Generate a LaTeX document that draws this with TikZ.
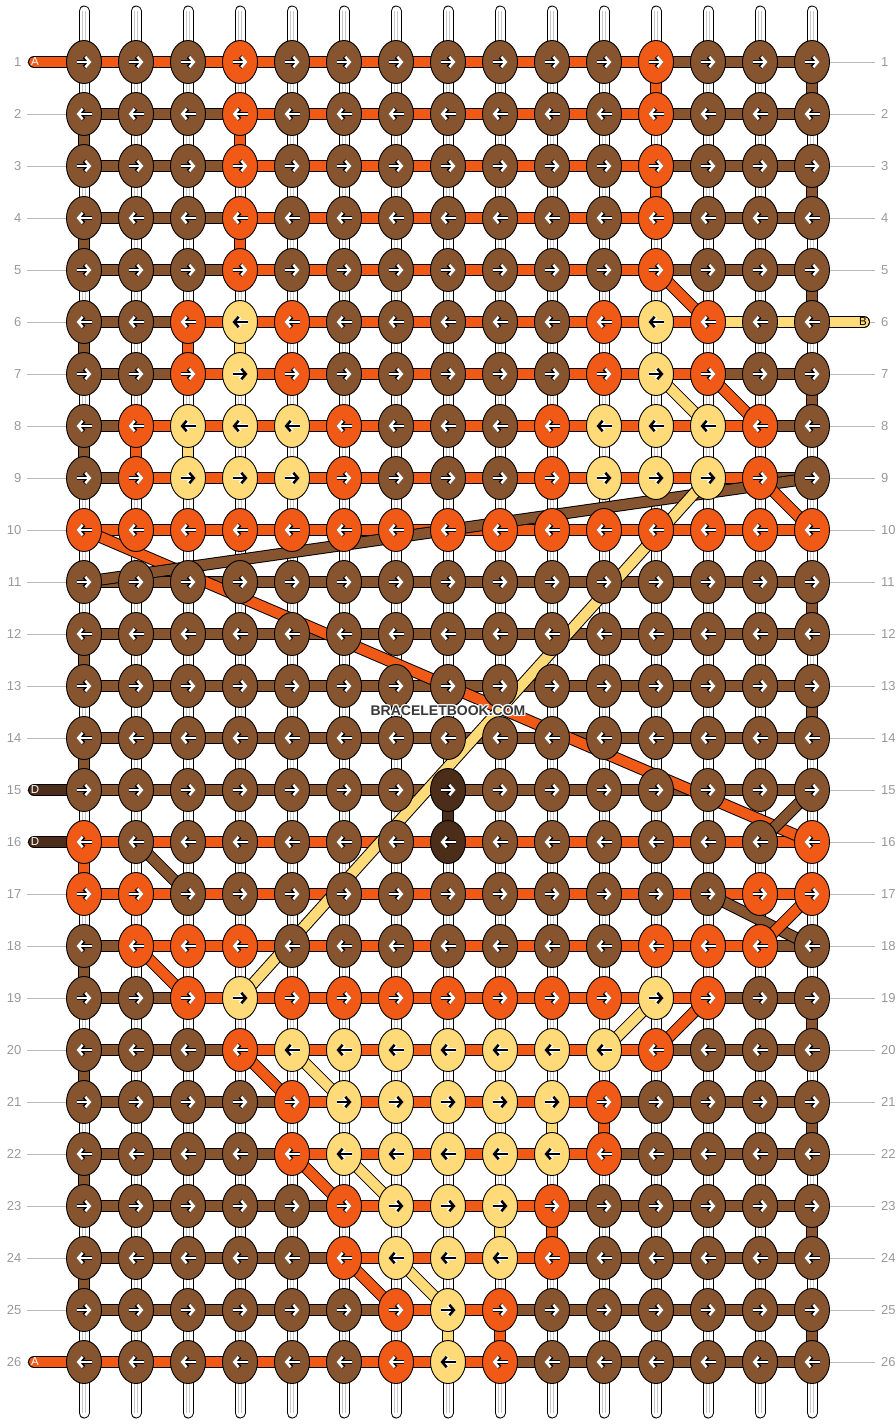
\documentclass[tikz,border=0pt]{standalone}
\usepackage{fontspec}
\setmainfont{Liberation Sans}
\usetikzlibrary{shapes.geometric,arrows.meta}
\definecolor{cB}{HTML}{875430}
\definecolor{cO}{HTML}{F15A16}
\definecolor{cY}{HTML}{FFDA78}
\definecolor{cD}{HTML}{4B2D19}
\definecolor{lbl}{HTML}{999999}
\tikzset{
  knot/.style={ellipse, draw=black, line width=0.9pt, minimum width=35pt, minimum height=43pt, inner sep=0pt},
  tube/.style={draw=white, line width=9pt, line cap=round,
    preaction={draw=black, line width=11pt, line cap=round},
    postaction={draw=black!22, line width=4.5pt, line cap=butt},
    postaction={draw=white, line width=2.5pt, line cap=butt}},
  bar/.style={draw=#1, line width=10pt, preaction={draw=black, line width=12pt}},
  tail/.style={draw=#1, line width=10pt, line cap=round,
    preaction={draw=black, line width=12pt, line cap=round}},
  arwtip/.style={-{Straight Barb[length=4.5pt,width=10.5pt]}},
  arw-B/.style={arwtip, draw=white, line width=2.5pt, preaction={draw=black, line width=4.2pt, arwtip}},
  arw-O/.style={arw-B},
  arw-D/.style={arw-B},
  arw-Y/.style={arwtip, draw=black, line width=2.5pt, preaction={draw=white, line width=4.2pt, arwtip}},
  rowlbl/.style={inner sep=0pt, text=lbl, font=\fontsize{13}{15}\selectfont},
  rowline/.style={draw=black!27, line width=1pt},
  taillbl/.style={inner sep=0pt, font=\fontsize{11.5}{13}\selectfont},
  wmark/.style={inner sep=0pt, font=\bfseries\fontsize{14}{16}\selectfont}
}
% row / knot colours / colours of the bars between knots
\def\patrows{
1/{B,B,B,O,B,B,B,B,B,B,B,O,B,B,B}/{O,O,O,O,O,O,O,O,O,O,O,B,B,B},
2/{B,B,B,O,B,B,B,B,B,B,B,O,B,B,B}/{B,B,B,O,O,O,O,O,O,O,O,B,B,B},
3/{B,B,B,O,B,B,B,B,B,B,B,O,B,B,B}/{B,B,B,O,O,O,O,O,O,O,O,B,B,B},
4/{B,B,B,O,B,B,B,B,B,B,B,O,B,B,B}/{B,B,B,O,O,O,O,O,O,O,O,B,B,B},
5/{B,B,B,O,B,B,B,B,B,B,B,O,B,B,B}/{B,B,B,O,O,O,O,O,O,O,O,B,B,B},
6/{B,B,O,Y,O,B,B,B,B,B,O,Y,O,B,B}/{B,B,O,O,O,O,O,O,O,O,O,O,Y,Y},
7/{B,B,O,Y,O,B,B,B,B,B,O,Y,O,B,B}/{B,B,O,O,O,O,O,O,O,O,O,O,B,B},
8/{B,O,Y,Y,Y,O,B,B,B,O,Y,Y,Y,O,B}/{B,O,O,O,O,O,O,O,O,O,O,O,O,B},
9/{B,O,Y,Y,Y,O,B,B,B,O,Y,Y,Y,O,B}/{B,O,O,O,O,O,O,O,O,O,O,O,O,B},
10/{O,O,O,O,O,O,O,O,O,O,O,O,O,O,O}/{O,O,O,O,O,O,O,O,O,O,O,O,O,O},
11/{B,B,B,B,B,B,B,B,B,B,B,B,B,B,B}/{B,B,B,B,B,B,B,B,B,B,B,B,B,B},
12/{B,B,B,B,B,B,B,B,B,B,B,B,B,B,B}/{B,B,B,B,B,B,B,B,B,B,B,B,B,B},
13/{B,B,B,B,B,B,B,B,B,B,B,B,B,B,B}/{B,B,B,B,B,B,B,B,B,B,B,B,B,B},
14/{B,B,B,B,B,B,B,B,B,B,B,B,B,B,B}/{B,B,B,B,B,B,B,B,B,B,B,B,B,B},
15/{B,B,B,B,B,B,B,D,B,B,B,B,B,B,B}/{B,B,B,B,B,B,B,B,B,B,B,B,B,B},
16/{O,B,B,B,B,B,B,D,B,B,B,B,B,B,O}/{O,O,O,O,O,O,O,O,O,O,O,O,O,O},
17/{O,O,B,B,B,B,B,B,B,B,B,B,B,O,O}/{O,O,O,O,O,O,O,O,O,O,O,O,O,O},
18/{B,O,O,O,B,B,B,B,B,B,B,O,O,O,B}/{B,O,O,O,O,O,O,O,O,O,O,O,O,B},
19/{B,B,O,Y,O,O,O,O,O,O,O,Y,O,B,B}/{B,B,O,O,O,O,O,O,O,O,O,O,B,B},
20/{B,B,B,O,Y,Y,Y,Y,Y,Y,Y,O,B,B,B}/{B,B,B,O,O,O,O,O,O,O,O,B,B,B},
21/{B,B,B,B,O,Y,Y,Y,Y,Y,O,B,B,B,B}/{B,B,B,B,O,O,O,O,O,O,B,B,B,B},
22/{B,B,B,B,O,Y,Y,Y,Y,Y,O,B,B,B,B}/{B,B,B,B,O,O,O,O,O,O,B,B,B,B},
23/{B,B,B,B,B,O,Y,Y,Y,O,B,B,B,B,B}/{B,B,B,B,B,O,O,O,O,B,B,B,B,B},
24/{B,B,B,B,B,O,Y,Y,Y,O,B,B,B,B,B}/{B,B,B,B,B,O,O,O,O,B,B,B,B,B},
25/{B,B,B,B,B,B,O,Y,O,B,B,B,B,B,B}/{B,B,B,B,B,B,O,O,B,B,B,B,B,B},
26/{B,B,B,B,B,B,O,Y,O,B,B,B,B,B,B}/{O,O,O,O,O,O,O,O,B,B,B,B,B,B}}
\begin{document}
\begin{tikzpicture}[x=1pt,y=-1pt]
\useasboundingbox (0,0) rectangle (896,1424);
% knot positions
\foreach \r in {1,...,26}
  \foreach \cl in {1,...,15}
    \coordinate (p-\r-\cl) at ({32+52*\cl},{10+52*\r});
% base strings
\foreach \cl in {1,...,15} {
  \coordinate (top-\cl) at ({32+52*\cl},11);
  \coordinate (bot-\cl) at ({32+52*\cl},1413);
  \draw[tube] (top-\cl) -- (bot-\cl);
}
% row numbers
\foreach \r in {1,...,26} {
  \node[rowlbl, anchor=east] (ll-\r) at (21.5,{10+52*\r}) {\r};
  \node[rowlbl, anchor=west] (rl-\r) at (881,{10+52*\r}) {\r};
  \draw[rowline] ([xshift=5.5pt]ll-\r.east) -- (p-\r-1);
  \draw[rowline] (p-\r-15) -- ([xshift=-6pt]rl-\r.west);
}
% bars along the rows
\foreach \r/\kn/\hb in \patrows {
  \foreach \h [count=\cl] in \hb {
    \pgfmathtruncatemacro\cn{\cl+1}
    \draw[bar=c\h] (p-\r-\cl) -- (p-\r-\cn);
  }
}
% links between rows
\foreach \r/\cl/\col in {2/1/B,4/1/B,6/1/B,8/1/B,12/1/B,14/1/B,18/1/B,20/1/B,22/1/B,24/1/B,
  1/15/B,3/15/B,5/15/B,7/15/B,11/15/B,13/15/B,19/15/B,21/15/B,23/15/B,25/15/B,
  16/1/O,1/12/O,3/12/O,2/4/O,4/4/O,6/3/O,8/2/O,21/11/O,23/10/O,25/9/O,
  6/4/Y,8/3/Y,21/10/Y,23/9/Y,25/8/Y,15/8/D} {
  \pgfmathtruncatemacro\rn{\r+1}
  \draw[bar=c\col] (p-\r-\cl) -- (p-\rn-\cl);
}
% loose ends
\coordinate (ea1) at (34,62);
\coordinate (ea26) at (34,1362);
\coordinate (ed15) at (34,790);
\coordinate (ed16) at (34,842);
\coordinate (eb6) at (864,322);
\draw[tail=cO] (ea1) -- (p-1-1);
\draw[tail=cO] (ea26) -- (p-26-1);
\draw[tail=cD] (ed15) -- (p-15-1);
\draw[tail=cD] (ed16) -- (p-16-1);
\draw[tail=cY] (p-6-15) -- (eb6);
% crossing threads
\foreach \ra/\ca/\rb/\cb/\col in {10/1/16/15/O,11/1/9/15/B,9/13/19/4/Y,
  5/12/6/13/O,7/12/8/13/Y,7/13/8/14/O,9/14/10/15/O,
  15/15/16/14/B,16/2/17/3/B,17/13/18/15/B,17/15/18/14/O,18/2/19/3/O,
  19/12/20/11/Y,19/13/20/12/O,20/4/21/5/O,20/5/21/6/Y,
  22/5/23/6/O,22/6/23/7/Y,24/6/25/7/O,24/7/25/8/Y}
  \draw[bar=c\col] (p-\ra-\ca) -- (p-\rb-\cb);
% knots
\foreach \r/\kn/\hb in \patrows {
  \ifodd\r\relax \def\xa{-7.5pt}\def\xb{7.5pt}\else\def\xa{7.5pt}\def\xb{-7.5pt}\fi
  \foreach \k [count=\cl] in \kn {
    \node[knot, fill=c\k] (k-\r-\cl) at (p-\r-\cl) {};
    \draw[arw-\k] ([xshift=\xa]k-\r-\cl.center) -- ([xshift=\xb]k-\r-\cl.center);
  }
}
\node[taillbl, text=white] (la1) at ([xshift=1pt]ea1) {A};
\node[taillbl, text=white] (la26) at ([xshift=1pt]ea26) {A};
\node[taillbl, text=white] (ld15) at ([xshift=1pt]ed15) {D};
\node[taillbl, text=white] (ld16) at ([xshift=1pt]ed16) {D};
\node[taillbl, text=black] (lb6) at ([xshift=-1pt]eb6) {B};
% watermark
\foreach \dx/\dy [count=\i] in {1/0,-1/0,0/1,0/-1,1/1,1/-1,-1/1,-1/-1}
  \node[wmark, text=white] (wmh-\i) at ({448+\dx},{711+\dy}) {BRACELETBOOK.COM};
\node[wmark, text=black!78] (wm) at (448,711) {BRACELETBOOK.COM};
\end{tikzpicture}
\end{document}
